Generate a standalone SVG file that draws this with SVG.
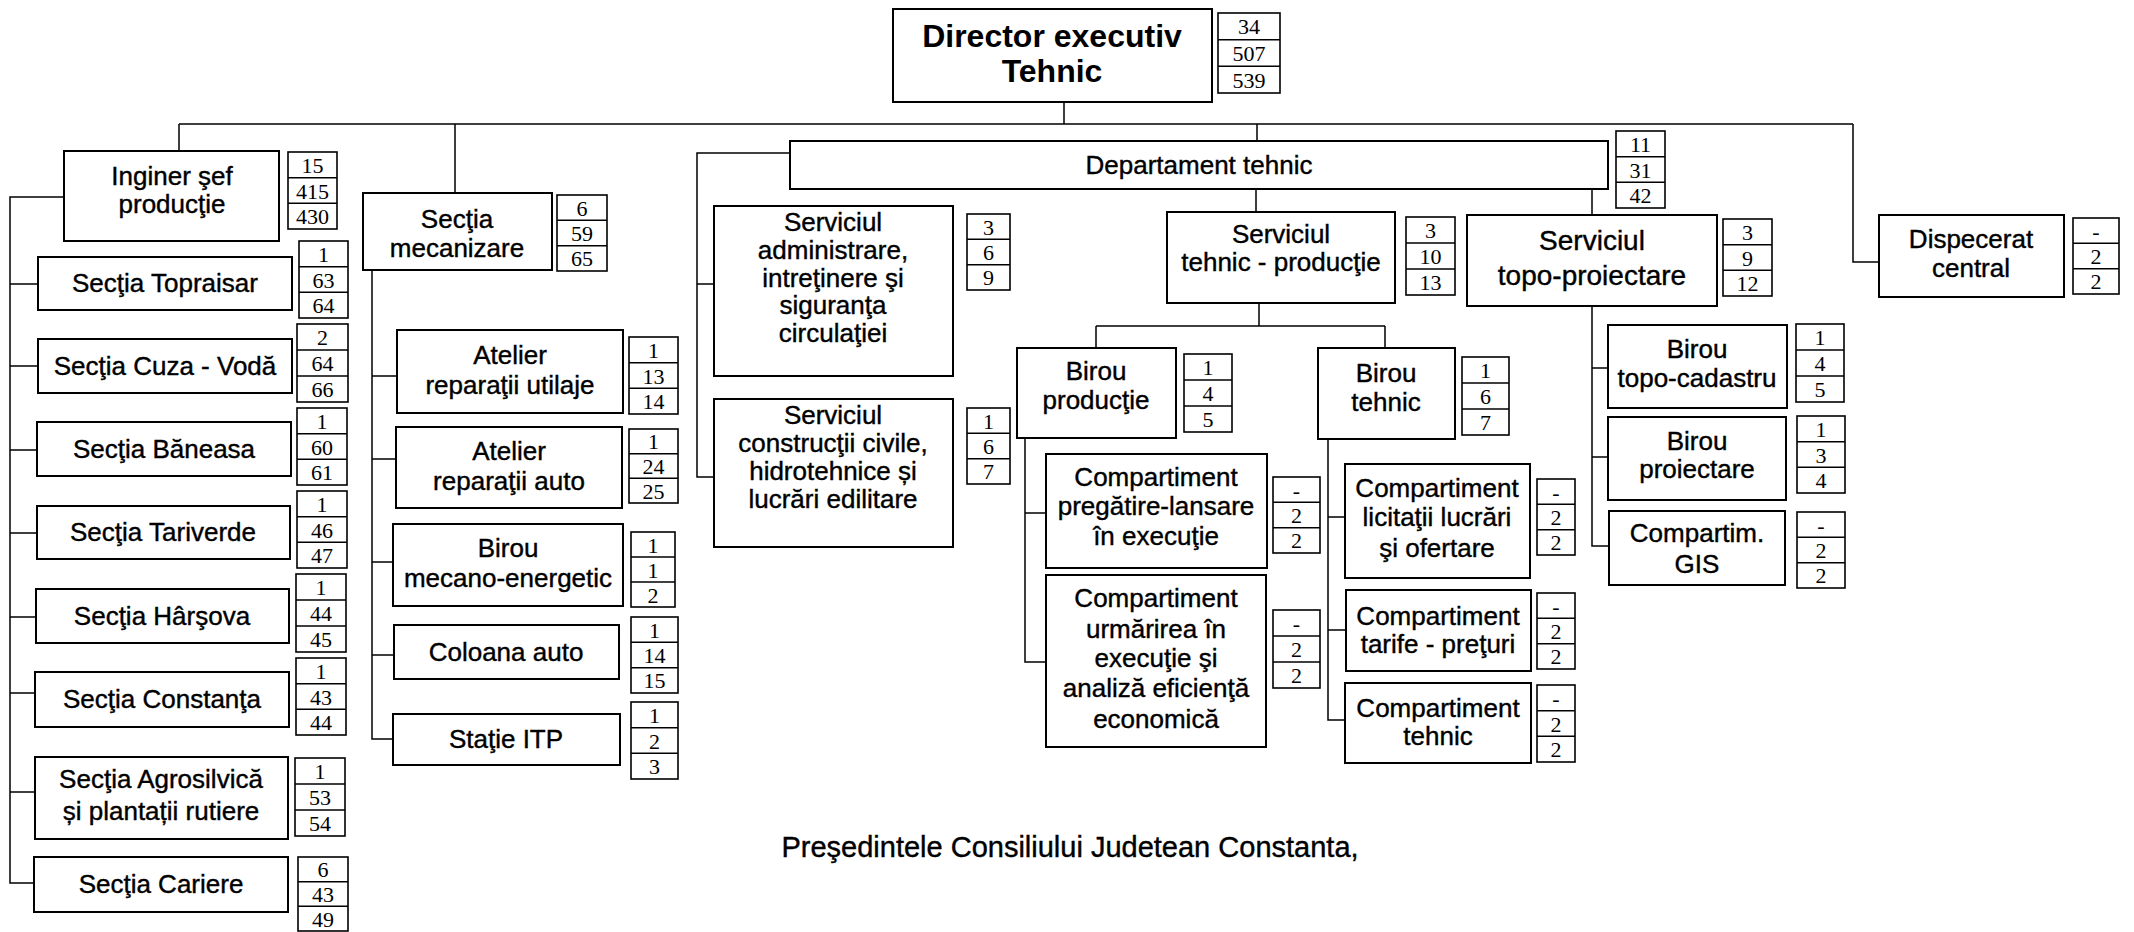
<svg xmlns="http://www.w3.org/2000/svg" width="2134" height="932" viewBox="0 0 2134 932">
<style>
.b{fill:#fff;stroke:#000;stroke-width:2}
.c{fill:#fff;stroke:#000;stroke-width:1.6}
.d{stroke:#000;stroke-width:1.4}
.l{fill:none;stroke:#000;stroke-width:1.5}
.t{font-family:"Liberation Sans",Arial,sans-serif;font-size:26px;text-anchor:middle;fill:#000;stroke:#000;stroke-width:0.4}
.tb{font-family:"Liberation Sans",Arial,sans-serif;font-size:32px;font-weight:bold;text-anchor:middle;fill:#000}
.tl{font-family:"Liberation Sans",Arial,sans-serif;font-size:28px;text-anchor:middle;fill:#000;stroke:#000;stroke-width:0.4}
.n{font-family:"Liberation Serif","Times New Roman",serif;font-size:22px;text-anchor:middle;fill:#000}
</style>
<rect width="2134" height="932" fill="#fff"/>
<g id="connectors" class="l">
<path d="M1064 102V124M179 124H1853M179 124V151M455 124V193M1257 124V141M1853 124V262H1879"/>
<path d="M64 197H10V883H34M10 284H38M10 366H38M10 450H37M10 533H37M10 617H36M10 693H35M10 792H35"/>
<path d="M372 270V739H393M372 376H397M372 459H396M372 562H393M372 655H394"/>
<path d="M790 153H697V477H714M697 284H714"/>
<path d="M1256 189V212M1592 189V215"/>
<path d="M1259 303V326M1096 326H1385M1096 326V348M1385 326V348"/>
<path d="M1025 438V662H1046M1025 513H1046"/>
<path d="M1328 439V720H1345M1328 517H1345M1328 630H1346"/>
<path d="M1592 306V546H1609M1592 368H1608M1592 457H1608"/>
</g>
<g id="director">
<rect class="b" x="893" y="9" width="319" height="93"/>
<text class="tb" x="1052" y="47">Director executiv</text>
<text class="tb" x="1052" y="82">Tehnic</text>
<rect class="c" x="1218" y="13" width="62" height="80"/>
<path class="d" d="M1218 39.7H1280M1218 66.3H1280"/>
<text class="n" x="1249" y="34">34</text><text class="n" x="1249" y="61">507</text><text class="n" x="1249" y="87.5">539</text>
</g>
<g id="inginer">
<rect class="b" x="64" y="151" width="215" height="90"/>
<text class="t" x="172" y="185">Inginer şef</text>
<text class="t" x="172" y="213">producţie</text>
<rect class="c" x="288" y="152" width="49" height="77"/>
<path class="d" d="M288 177.7H337M288 203.3H337"/>
<text class="n" x="312.5" y="172.8">15</text><text class="n" x="312.5" y="198.5">415</text><text class="n" x="312.5" y="224.2">430</text>
</g>
<g id="topraisar">
<rect class="b" x="38" y="257" width="254" height="53"/>
<text class="t" x="165" y="292">Secţia Topraisar</text>
<rect class="c" x="299" y="241" width="49" height="77"/>
<path class="d" d="M299 266.7H348M299 292.3H348"/>
<text class="n" x="323.5" y="261.8">1</text><text class="n" x="323.5" y="287.5">63</text><text class="n" x="323.5" y="313.2">64</text>
</g>
<g id="cuza">
<rect class="b" x="38" y="339" width="254" height="54"/>
<text class="t" x="165" y="375">Secţia Cuza - Vodă</text>
<rect class="c" x="297" y="324" width="51" height="78"/>
<path class="d" d="M297 350H348M297 376H348"/>
<text class="n" x="322.5" y="345">2</text><text class="n" x="322.5" y="371">64</text><text class="n" x="322.5" y="397">66</text>
</g>
<g id="baneasa">
<rect class="b" x="37" y="422" width="254" height="54"/>
<text class="t" x="164" y="458">Secţia Băneasa</text>
<rect class="c" x="297" y="408" width="50" height="77"/>
<path class="d" d="M297 433.7H347M297 459.3H347"/>
<text class="n" x="322" y="428.8">1</text><text class="n" x="322" y="454.5">60</text><text class="n" x="322" y="480.2">61</text>
</g>
<g id="tariverde">
<rect class="b" x="37" y="506" width="253" height="53"/>
<text class="t" x="163" y="541">Secţia Tariverde</text>
<rect class="c" x="297" y="491" width="50" height="77"/>
<path class="d" d="M297 516.7H347M297 542.3H347"/>
<text class="n" x="322" y="511.8">1</text><text class="n" x="322" y="537.5">46</text><text class="n" x="322" y="563.2">47</text>
</g>
<g id="harsova">
<rect class="b" x="36" y="589" width="253" height="54"/>
<text class="t" x="162" y="625">Secţia Hârşova</text>
<rect class="c" x="296" y="574" width="50" height="78"/>
<path class="d" d="M296 600H346M296 626H346"/>
<text class="n" x="321" y="595">1</text><text class="n" x="321" y="621">44</text><text class="n" x="321" y="647">45</text>
</g>
<g id="constanta">
<rect class="b" x="35" y="672" width="254" height="55"/>
<text class="t" x="162" y="708">Secţia Constanţa</text>
<rect class="c" x="296" y="658" width="50" height="77"/>
<path class="d" d="M296 683.7H346M296 709.3H346"/>
<text class="n" x="321" y="678.8">1</text><text class="n" x="321" y="704.5">43</text><text class="n" x="321" y="730.2">44</text>
</g>
<g id="agrosilvica">
<rect class="b" x="35" y="757" width="253" height="82"/>
<text class="t" x="161" y="788">Secţia Agrosilvică</text>
<text class="t" x="161" y="820">și plantații rutiere</text>
<rect class="c" x="295" y="758" width="50" height="78"/>
<path class="d" d="M295 784H345M295 810H345"/>
<text class="n" x="320" y="779">1</text><text class="n" x="320" y="805">53</text><text class="n" x="320" y="831">54</text>
</g>
<g id="cariere">
<rect class="b" x="34" y="857" width="254" height="55"/>
<text class="t" x="161" y="893">Secţia Cariere</text>
<rect class="c" x="298" y="857" width="50" height="74"/>
<path class="d" d="M298 881.7H348M298 906.3H348"/>
<text class="n" x="323" y="877.3">6</text><text class="n" x="323" y="902">43</text><text class="n" x="323" y="926.7">49</text>
</g>
<g id="mecanizare">
<rect class="b" x="363" y="193" width="189" height="77"/>
<text class="t" x="457" y="228">Secţia</text>
<text class="t" x="457" y="257">mecanizare</text>
<rect class="c" x="557" y="195" width="50" height="76"/>
<path class="d" d="M557 220.3H607M557 245.7H607"/>
<text class="n" x="582" y="215.7">6</text><text class="n" x="582" y="241">59</text><text class="n" x="582" y="266.3">65</text>
</g>
<g id="atelier-utilaje">
<rect class="b" x="397" y="330" width="226" height="83"/>
<text class="t" x="510" y="364">Atelier</text>
<text class="t" x="510" y="394">reparaţii utilaje</text>
<rect class="c" x="629" y="337" width="49" height="77"/>
<path class="d" d="M629 362.7H678M629 388.3H678"/>
<text class="n" x="653.5" y="357.8">1</text><text class="n" x="653.5" y="383.5">13</text><text class="n" x="653.5" y="409.2">14</text>
</g>
<g id="atelier-auto">
<rect class="b" x="396" y="427" width="226" height="81"/>
<text class="t" x="509" y="460">Atelier</text>
<text class="t" x="509" y="490">reparaţii auto</text>
<rect class="c" x="629" y="429" width="49" height="74"/>
<path class="d" d="M629 453.7H678M629 478.3H678"/>
<text class="n" x="653.5" y="449.3">1</text><text class="n" x="653.5" y="474">24</text><text class="n" x="653.5" y="498.7">25</text>
</g>
<g id="birou-mecano">
<rect class="b" x="393" y="524" width="230" height="82"/>
<text class="t" x="508" y="557">Birou</text>
<text class="t" x="508" y="587">mecano-energetic</text>
<rect class="c" x="631" y="532" width="44" height="75"/>
<path class="d" d="M631 557H675M631 582H675"/>
<text class="n" x="653" y="552.5">1</text><text class="n" x="653" y="577.5">1</text><text class="n" x="653" y="602.5">2</text>
</g>
<g id="coloana">
<rect class="b" x="394" y="625" width="225" height="54"/>
<text class="t" x="506" y="661">Coloana auto</text>
<rect class="c" x="631" y="617" width="47" height="76"/>
<path class="d" d="M631 642.3H678M631 667.7H678"/>
<text class="n" x="654.5" y="637.7">1</text><text class="n" x="654.5" y="663">14</text><text class="n" x="654.5" y="688.3">15</text>
</g>
<g id="itp">
<rect class="b" x="393" y="714" width="227" height="51"/>
<text class="t" x="506" y="748">Staţie ITP</text>
<rect class="c" x="631" y="702" width="47" height="77"/>
<path class="d" d="M631 727.7H678M631 753.3H678"/>
<text class="n" x="654.5" y="722.8">1</text><text class="n" x="654.5" y="748.5">2</text><text class="n" x="654.5" y="774.2">3</text>
</g>
<g id="departament">
<rect class="b" x="790" y="141" width="818" height="48"/>
<text class="t" x="1199" y="174">Departament tehnic</text>
<rect class="c" x="1616" y="131" width="49" height="77"/>
<path class="d" d="M1616 156.7H1665M1616 182.3H1665"/>
<text class="n" x="1640.5" y="151.8">11</text><text class="n" x="1640.5" y="177.5">31</text><text class="n" x="1640.5" y="203.2">42</text>
</g>
<g id="administrare">
<rect class="b" x="714" y="206" width="239" height="170"/>
<text class="t" x="833" y="231">Serviciul</text>
<text class="t" x="833" y="259">administrare,</text>
<text class="t" x="833" y="287">intreţinere şi</text>
<text class="t" x="833" y="314">siguranţa</text>
<text class="t" x="833" y="342">circulaţiei</text>
<rect class="c" x="967" y="214" width="43" height="76"/>
<path class="d" d="M967 239.3H1010M967 264.7H1010"/>
<text class="n" x="988.5" y="234.7">3</text><text class="n" x="988.5" y="260">6</text><text class="n" x="988.5" y="285.3">9</text>
</g>
<g id="constructii">
<rect class="b" x="714" y="399" width="239" height="148"/>
<text class="t" x="833" y="424">Serviciul</text>
<text class="t" x="833" y="452">construcţii civile,</text>
<text class="t" x="833" y="480">hidrotehnice și</text>
<text class="t" x="833" y="508">lucrări edilitare</text>
<rect class="c" x="967" y="408" width="43" height="76"/>
<path class="d" d="M967 433.3H1010M967 458.7H1010"/>
<text class="n" x="988.5" y="428.7">1</text><text class="n" x="988.5" y="454">6</text><text class="n" x="988.5" y="479.3">7</text>
</g>
<g id="tehnic-productie">
<rect class="b" x="1167" y="212" width="228" height="91"/>
<text class="t" x="1281" y="243">Serviciul</text>
<text class="t" x="1281" y="271">tehnic - producţie</text>
<rect class="c" x="1406" y="217" width="49" height="78"/>
<path class="d" d="M1406 243H1455M1406 269H1455"/>
<text class="n" x="1430.5" y="238">3</text><text class="n" x="1430.5" y="264">10</text><text class="n" x="1430.5" y="290">13</text>
</g>
<g id="topo-proiectare">
<rect class="b" x="1467" y="215" width="250" height="91"/>
<text class="tl" x="1592" y="250">Serviciul</text>
<text class="tl" x="1592" y="285">topo-proiectare</text>
<rect class="c" x="1723" y="219" width="49" height="77"/>
<path class="d" d="M1723 244.7H1772M1723 270.3H1772"/>
<text class="n" x="1747.5" y="239.8">3</text><text class="n" x="1747.5" y="265.5">9</text><text class="n" x="1747.5" y="291.2">12</text>
</g>
<g id="dispecerat">
<rect class="b" x="1879" y="215" width="185" height="82"/>
<text class="t" x="1971" y="248">Dispecerat</text>
<text class="t" x="1971" y="277">central</text>
<rect class="c" x="2073" y="218" width="46" height="76"/>
<path class="d" d="M2073 243.3H2119M2073 268.7H2119"/>
<text class="n" x="2096" y="238.7">-</text><text class="n" x="2096" y="264">2</text><text class="n" x="2096" y="289.3">2</text>
</g>
<g id="birou-productie">
<rect class="b" x="1017" y="348" width="159" height="90"/>
<text class="t" x="1096" y="380">Birou</text>
<text class="t" x="1096" y="409">producţie</text>
<rect class="c" x="1184" y="354" width="48" height="78"/>
<path class="d" d="M1184 380H1232M1184 406H1232"/>
<text class="n" x="1208" y="375">1</text><text class="n" x="1208" y="401">4</text><text class="n" x="1208" y="427">5</text>
</g>
<g id="birou-tehnic">
<rect class="b" x="1318" y="348" width="137" height="91"/>
<text class="t" x="1386" y="382">Birou</text>
<text class="t" x="1386" y="411">tehnic</text>
<rect class="c" x="1462" y="357" width="47" height="78"/>
<path class="d" d="M1462 383H1509M1462 409H1509"/>
<text class="n" x="1485.5" y="378">1</text><text class="n" x="1485.5" y="404">6</text><text class="n" x="1485.5" y="430">7</text>
</g>
<g id="pregatire">
<rect class="b" x="1046" y="454" width="221" height="114"/>
<text class="t" x="1156" y="486">Compartiment</text>
<text class="t" x="1156" y="515">pregătire-lansare</text>
<text class="t" x="1156" y="545">în execuţie</text>
<rect class="c" x="1273" y="477" width="47" height="76"/>
<path class="d" d="M1273 502.3H1320M1273 527.7H1320"/>
<text class="n" x="1296.5" y="497.7">-</text><text class="n" x="1296.5" y="523">2</text><text class="n" x="1296.5" y="548.3">2</text>
</g>
<g id="urmarirea">
<rect class="b" x="1046" y="575" width="220" height="172"/>
<text class="t" x="1156" y="607">Compartiment</text>
<text class="t" x="1156" y="638">urmărirea în</text>
<text class="t" x="1156" y="667">execuţie şi</text>
<text class="t" x="1156" y="697">analiză eficienţă</text>
<text class="t" x="1156" y="728">economică</text>
<rect class="c" x="1273" y="610" width="47" height="78"/>
<path class="d" d="M1273 636H1320M1273 662H1320"/>
<text class="n" x="1296.5" y="631">-</text><text class="n" x="1296.5" y="657">2</text><text class="n" x="1296.5" y="683">2</text>
</g>
<g id="licitatii">
<rect class="b" x="1345" y="464" width="185" height="114"/>
<text class="t" x="1437" y="497">Compartiment</text>
<text class="t" x="1437" y="526">licitaţii lucrări</text>
<text class="t" x="1437" y="557">şi ofertare</text>
<rect class="c" x="1537" y="479" width="38" height="76"/>
<path class="d" d="M1537 504.3H1575M1537 529.7H1575"/>
<text class="n" x="1556" y="499.7">-</text><text class="n" x="1556" y="525">2</text><text class="n" x="1556" y="550.3">2</text>
</g>
<g id="tarife">
<rect class="b" x="1346" y="590" width="185" height="81"/>
<text class="t" x="1438" y="625">Compartiment</text>
<text class="t" x="1438" y="653">tarife - preţuri</text>
<rect class="c" x="1537" y="593" width="38" height="76"/>
<path class="d" d="M1537 618.3H1575M1537 643.7H1575"/>
<text class="n" x="1556" y="613.7">-</text><text class="n" x="1556" y="639">2</text><text class="n" x="1556" y="664.3">2</text>
</g>
<g id="comp-tehnic">
<rect class="b" x="1345" y="683" width="186" height="80"/>
<text class="t" x="1438" y="717">Compartiment</text>
<text class="t" x="1438" y="745">tehnic</text>
<rect class="c" x="1537" y="685" width="38" height="77"/>
<path class="d" d="M1537 710.7H1575M1537 736.3H1575"/>
<text class="n" x="1556" y="705.8">-</text><text class="n" x="1556" y="731.5">2</text><text class="n" x="1556" y="757.2">2</text>
</g>
<g id="topo-cadastru">
<rect class="b" x="1608" y="325" width="179" height="83"/>
<text class="t" x="1697" y="358">Birou</text>
<text class="t" x="1697" y="387">topo-cadastru</text>
<rect class="c" x="1796" y="324" width="48" height="78"/>
<path class="d" d="M1796 350H1844M1796 376H1844"/>
<text class="n" x="1820" y="345">1</text><text class="n" x="1820" y="371">4</text><text class="n" x="1820" y="397">5</text>
</g>
<g id="proiectare">
<rect class="b" x="1608" y="417" width="178" height="83"/>
<text class="t" x="1697" y="450">Birou</text>
<text class="t" x="1697" y="478">proiectare</text>
<rect class="c" x="1797" y="416" width="48" height="77"/>
<path class="d" d="M1797 441.7H1845M1797 467.3H1845"/>
<text class="n" x="1821" y="436.8">1</text><text class="n" x="1821" y="462.5">3</text><text class="n" x="1821" y="488.2">4</text>
</g>
<g id="gis">
<rect class="b" x="1609" y="511" width="176" height="74"/>
<text class="t" x="1697" y="542">Compartim.</text>
<text class="t" x="1697" y="573">GIS</text>
<rect class="c" x="1797" y="512" width="48" height="76"/>
<path class="d" d="M1797 537.3H1845M1797 562.7H1845"/>
<text class="n" x="1821" y="532.7">-</text><text class="n" x="1821" y="558">2</text><text class="n" x="1821" y="583.3">2</text>
</g>
<text class="tl" x="1070" y="857" style="font-size:29px">Preşedintele Consiliului Judetean Constanta,</text>
</svg>
